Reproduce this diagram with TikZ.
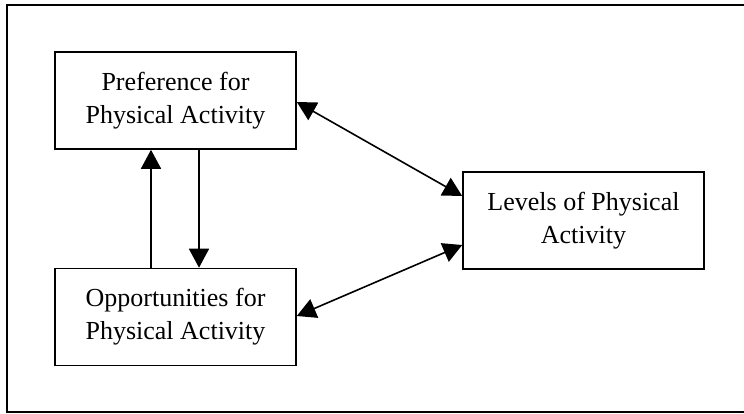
\documentclass[tikz,border=0pt]{standalone}
\usepackage{fontspec}
\setmainfont{Liberation Serif}
\usetikzlibrary{arrows.meta}

\begin{document}
\begin{tikzpicture}[x=1pt, y=-1pt,
    factor/.style={draw, line width=1.6pt, minimum width=241pt, minimum height=97pt,
      align=center, font=\fontsize{26}{33}\selectfont, inner sep=0pt},
    link/.style={line width=1.6pt, -{Triangle[length=19pt,width=20pt]}},
    twoway/.style={line width=1.6pt, {Triangle[length=19pt,width=20pt]}-{Triangle[length=19pt,width=20pt]}}]

  % --- Canvas and outer frame (right side runs off the page) ---
  \useasboundingbox (0,0) rectangle (744,413);
  \draw[line width=1.6pt] (7,5) rectangle (752,412);

  % --- Boxes ---
  \node[factor] (pref) at (175.5,100.5) {Preference for\\Physical Activity};
  \node[factor] (opp) at (175.5,317) {Opportunities for\\Physical Activity};
  \node[factor] (levels) at (583.5,220.5) {Levels of Physical\\Activity};

  % --- Arrows between preference and opportunities ---
  \draw[link] ([xshift=-24.5pt]opp.north) -- ([xshift=-24.5pt]pref.south);
  \draw[link] ([xshift=23.5pt]pref.south) -- ([xshift=23.5pt]opp.north);

  % --- Two-way arrows to levels ---
  \draw[twoway] ([yshift=-1.5pt]pref.east) -- ([yshift=24.5pt]levels.west);
  \draw[twoway] ([yshift=1pt]opp.east) -- ([yshift=-24.5pt]levels.west);

\end{tikzpicture}
\end{document}
